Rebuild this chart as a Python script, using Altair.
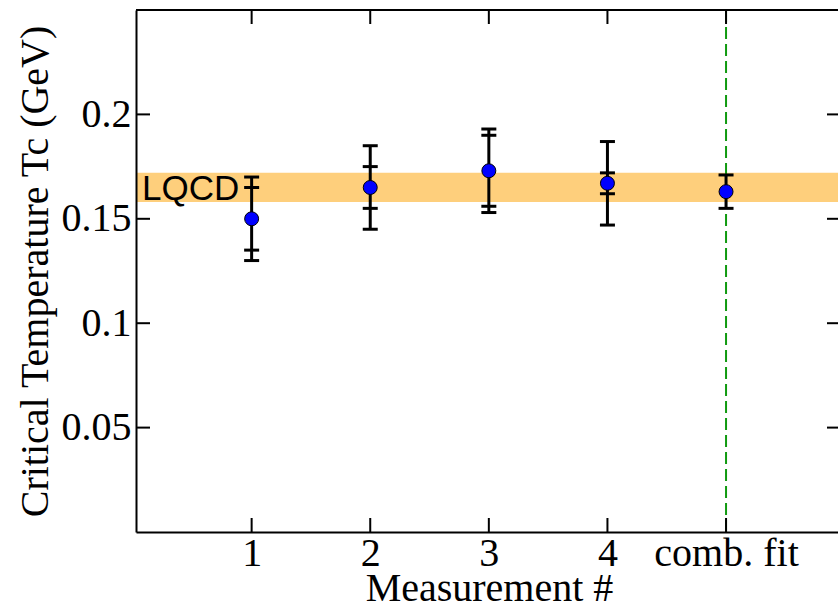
import altair as alt
import pandas as pd

# ---- data ----
measure_x = [1, 2, 3, 4, 5]
tick_labels = ["1", "2", "3", "4", "comb. fit"]
tc_values = [0.150, 0.165, 0.173, 0.167, 0.163]
stat_lo = [0.135, 0.155, 0.156, 0.162, None]
stat_hi = [0.165, 0.175, 0.190, 0.172, None]
total_lo = [0.130, 0.145, 0.153, 0.147, 0.155]
total_hi = [0.170, 0.185, 0.193, 0.187, 0.171]
y_ticks = [0.05, 0.10, 0.15, 0.20]
lqcd_lo = [0.158]
lqcd_hi = [0.172]
lqcd_label = ["LQCD"]
fit_position = [5]

# ---- layout ----
W, H = 702, 522
SERIF = "Liberation Serif"
SANS = "Liberation Sans"

xscale = alt.Scale(domain=[0.025, 5.944], nice=False, zero=False)
yscale = alt.Scale(domain=[0, 0.25], nice=False, zero=False)

pts = pd.DataFrame({
    "x": measure_x, "tc": tc_values,
    "tot_lo": total_lo, "tot_hi": total_hi,
})
caps_x, caps_y = [], []
for i, xv in enumerate(measure_x):
    for arr in (stat_lo, stat_hi, total_lo, total_hi):
        if arr[i] is not None:
            caps_x.append(xv)
            caps_y.append(arr[i])
caps = pd.DataFrame({"x": caps_x, "y": caps_y})
band = pd.DataFrame({"lo": lqcd_lo, "hi": lqcd_hi,
                     "mid": [(a + b) / 2 for a, b in zip(lqcd_lo, lqcd_hi)],
                     "label": lqcd_label})
xt = pd.DataFrame({"x": measure_x})
yt = pd.DataFrame({"y": y_ticks})
fit = pd.DataFrame({"x": fit_position})
one = pd.DataFrame({"a": [0]})

label_expr = "[" + ",".join("'%s'" % l for l in tick_labels) + "][datum.value - 1]"

x_axis = alt.Axis(
    values=measure_x, labelExpr=label_expr, labelFont=SERIF, labelFontSize=40,
    labelColor="black", labelPadding=1, labelOverlap=False, labelFlush=False,
    ticks=False, tickSize=0, grid=False, domainColor="black", domainWidth=2,
    title="Measurement #", titleFont=SERIF, titleFontSize=40,
    titleFontWeight="normal", titleColor="black", titleX=353, titleY=68,
    titleAlign="center", titleBaseline="alphabetic", zindex=1,
)
y_axis = alt.Axis(
    values=y_ticks, labelExpr="'' + datum.value", labelFont=SERIF,
    labelFontSize=40, labelColor="black", labelPadding=5, labelOverlap=False,
    labelFlush=False, ticks=False, tickSize=0, grid=False, domainColor="black",
    domainWidth=2, title="Critical Temperature Tc (GeV)", titleFont=SERIF,
    titleFontSize=40, titleFontWeight="normal", titleColor="black",
    titleX=-89, titleY=H / 2, titleAngle=270, titleAlign="center",
    titleBaseline="alphabetic", zindex=1,
)


def X(field):
    return alt.X(field, scale=xscale, axis=x_axis)


def Y(field):
    return alt.Y(field, scale=yscale, axis=y_axis)


band_layer = alt.Chart(band).mark_rect(color="#FECF7C").encode(
    x=alt.value(0), x2=alt.value(W), y=Y("lo:Q"), y2="hi:Q",
)
band_text = alt.Chart(band).mark_text(
    font=SANS, fontSize=35, align="left", baseline="middle", dy=2, color="black"
).encode(x=alt.value(6), y=Y("mid:Q"), text="label:N")

fit_line = alt.Chart(fit).mark_rule(
    color="#109a10", strokeDash=[12, 5], strokeWidth=2
).encode(x=X("x:Q"))

err = alt.Chart(pts).mark_rule(color="black", strokeWidth=3).encode(
    x=X("x:Q"), y=Y("tot_lo:Q"), y2="tot_hi:Q",
)
cap_layer = alt.Chart(caps).mark_tick(
    orient="horizontal", size=15, thickness=3, color="black", opacity=1
).encode(x=X("x:Q"), y=Y("y:Q"))
points = alt.Chart(pts).mark_circle(
    size=195, color="#0000FF", stroke="black", strokeWidth=1, opacity=1
).encode(x=X("x:Q"), y=Y("tc:Q"))

rule_style = dict(color="black", strokeWidth=2)
bottom_ticks = alt.Chart(xt).mark_rule(**rule_style).encode(
    x=X("x:Q"), y=alt.value(H), y2=alt.value(H - 14))
top_ticks = alt.Chart(xt).mark_rule(**rule_style).encode(
    x=X("x:Q"), y=alt.value(0), y2=alt.value(14))
left_ticks = alt.Chart(yt).mark_rule(**rule_style).encode(
    y=Y("y:Q"), x=alt.value(0), x2=alt.value(14))
right_ticks = alt.Chart(yt).mark_rule(**rule_style).encode(
    y=Y("y:Q"), x=alt.value(W - 11), x2=alt.value(W))
top_border = alt.Chart(one).mark_rule(**rule_style).encode(
    x=alt.value(0), x2=alt.value(W), y=alt.value(0))

chart = alt.layer(
    band_layer, band_text, fit_line, err, cap_layer, points,
    bottom_ticks, top_ticks, left_ticks, right_ticks, top_border,
).properties(
    width=W, height=H,
    autosize=alt.AutoSizeParams(type="none"),
    padding={"left": 136, "top": 10, "right": 0, "bottom": 73},
    background="white",
).configure_view(strokeWidth=0)

chart.save("out.html", embed_options={"renderer": "svg", "actions": False})
